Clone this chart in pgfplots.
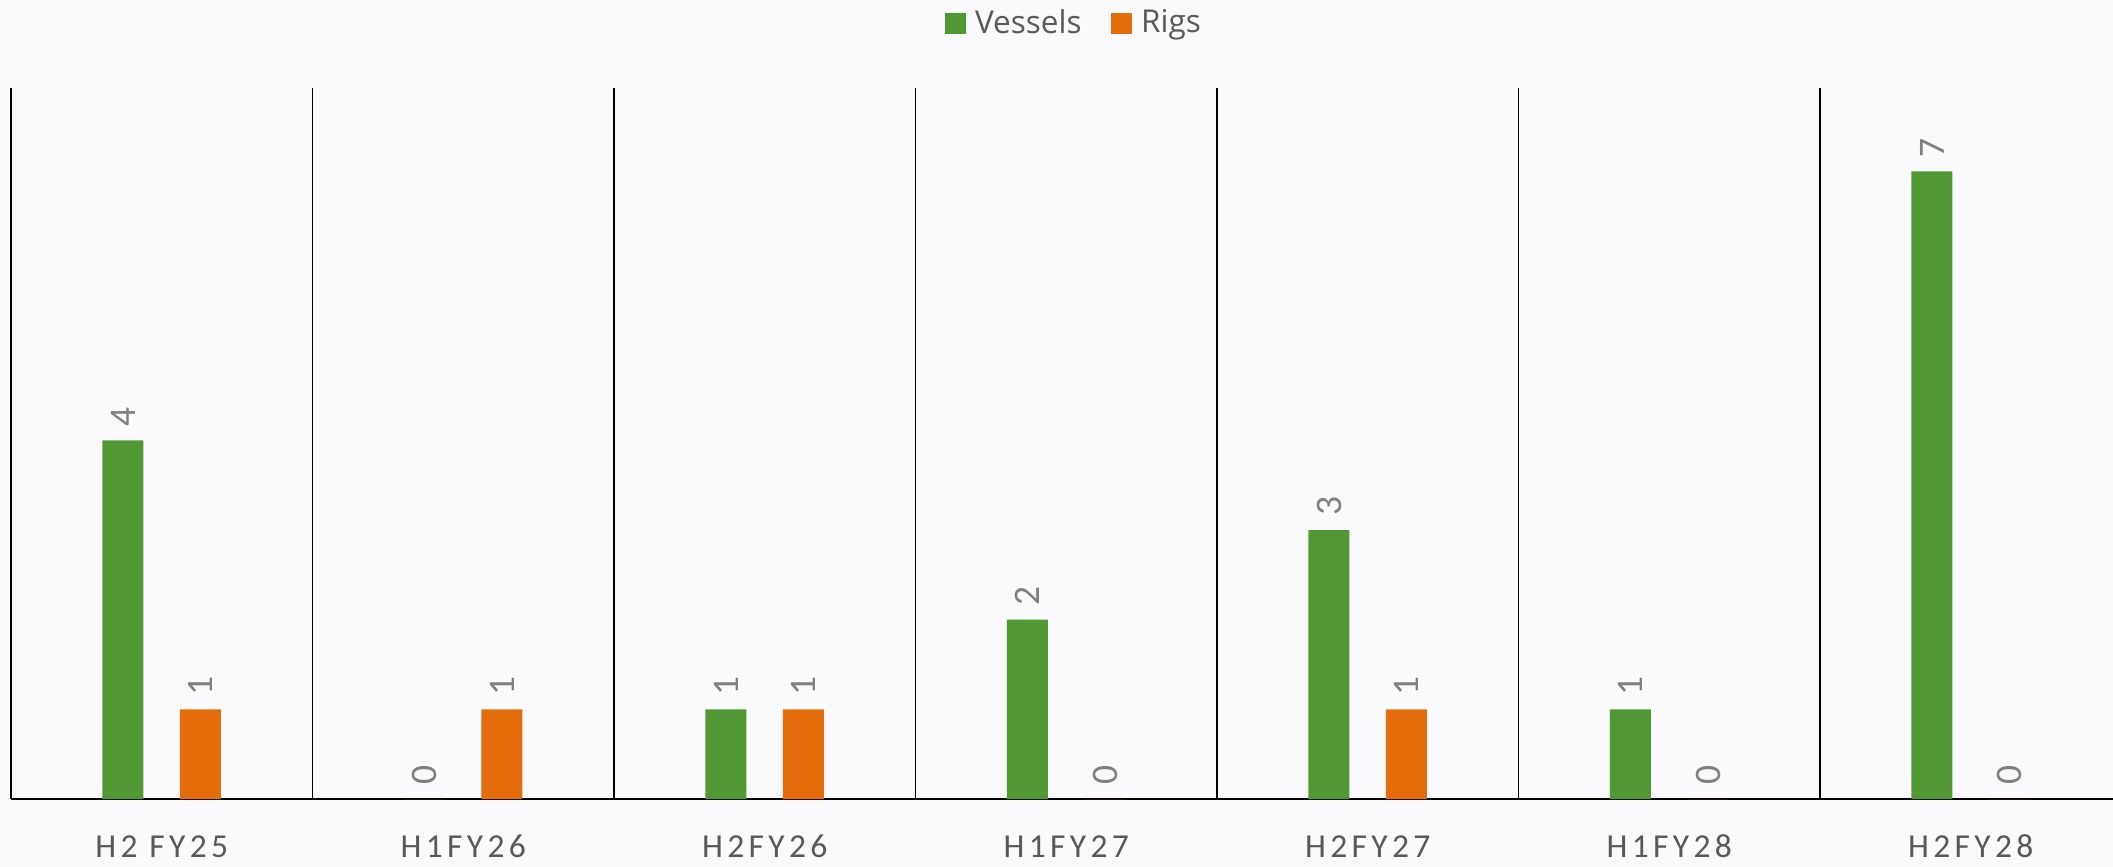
\documentclass[border=0pt]{standalone}
\usepackage{pgfplots}
\pgfplotsset{compat=1.18}
\usepackage{fontspec}
\setmainfont{Open Sans}
\newfontfamily\tickfont{Carlito}[LetterSpace=13]
\newfontfamily\labfont{Carlito}

\definecolor{vessel}{RGB}{80,152,52}
\definecolor{rig}{RGB}{228,108,10}
\definecolor{bgc}{RGB}{250,250,252}
\definecolor{ticktext}{RGB}{89,89,89}
\definecolor{labtext}{RGB}{128,128,128}

\begin{document}
\begin{tikzpicture}
\useasboundingbox (-4.4pt,-26.8pt) rectangle (840.8pt,319.6pt);
\fill[bgc] (-4.4pt,-26.8pt) rectangle (840.8pt,319.6pt);
\begin{axis}[
    at={(0,0)}, anchor=south west,
    scale only axis, width=840.8pt, height=284.4pt,
    ybar=14.6pt, bar width=16.4pt,
    xmin=-0.5, xmax=6.472, ymin=0, ymax=7.93,
    axis lines*=left,
    x axis line style={black, line width=0.9pt},
    y axis line style={black, line width=0.7pt},
    ytick=\empty,
    xtick={0,1,2,3,4,5,6},
    xticklabels={H2 FY25, H1FY26, H2FY26, H1FY27, H2FY27, H1FY28, H2FY28},
    major tick length=0pt,
    xticklabel style={font=\tickfont\fontsize{13.4}{15}\selectfont, text=ticktext, anchor=base, yshift=-23.3pt},
    extra x ticks={0.5,1.5,2.5,3.5,4.5,5.5},
    extra x tick labels={},
    extra x tick style={grid=major, major grid style={black, line width=0.7pt}},
    clip=false,
    /pgf/number format/assume math mode=true,
    nodes near coords,
    every node near coord/.append style={font=\labfont\fontsize{15}{17}\selectfont, text=labtext, rotate=90, anchor=west, inner xsep=5.5pt, inner ysep=0pt},
    legend columns=2,
    legend style={at={(0.5052,1.0914)}, anchor=center, draw=none, fill=none,
        font=\fontsize{12.6}{15}\selectfont, text=ticktext,
        nodes={inner sep=0pt},
        /tikz/every odd column/.append style={column sep=3.6pt},
        /tikz/every even column/.append style={column sep=11.8pt}},
    legend image code/.code={\fill[#1] (0pt,-4.2pt) rectangle (8.4pt,4.2pt);},
]
\addplot[fill=vessel, draw=none] coordinates {(0,4) (1,0) (2,1) (3,2) (4,3) (5,1) (6,7)};
\addplot[fill=rig, draw=none] coordinates {(0,1) (1,1) (2,1) (3,0) (4,1) (5,0) (6,0)};
\legend{Vessels, Rigs}
\end{axis}
\end{tikzpicture}
\end{document}
